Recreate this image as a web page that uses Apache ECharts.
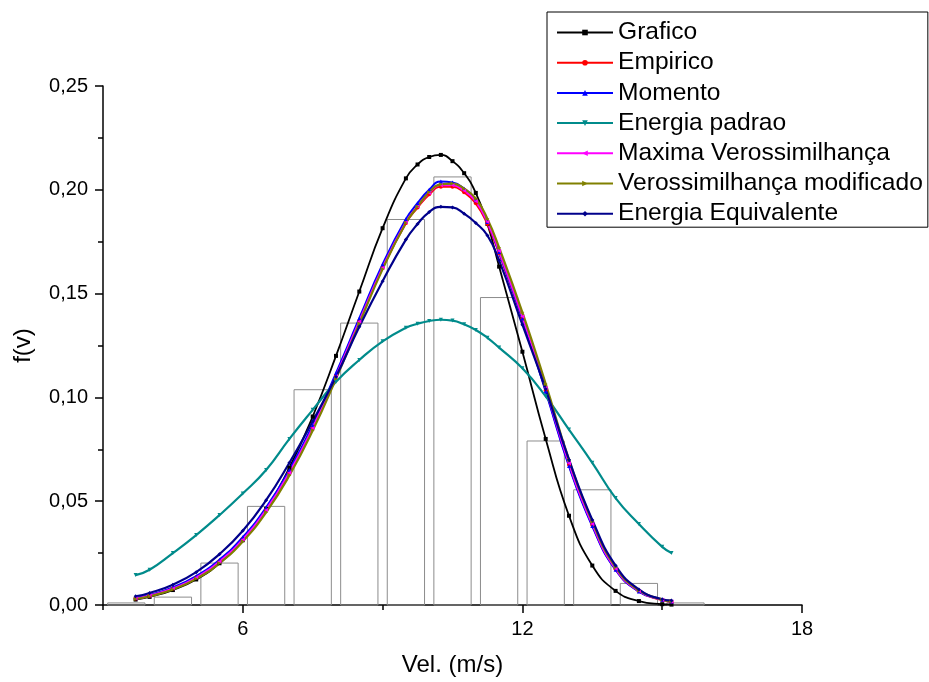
<!DOCTYPE html>
<html>
<head>
<meta charset="utf-8">
<script src="https://cdn.jsdelivr.net/npm/echarts@6/dist/echarts.min.js"></script>
<style>
html,body{margin:0;padding:0;background:#fff;}
#chart{width:929px;height:682px;}
</style>
</head>
<body>
<div id="chart"></div>
<script>
// Histogram (bin centres and heights)
var binCenters = [3.5, 4.5, 5.5, 6.5, 7.5, 8.5, 9.5, 10.5, 11.5, 12.5, 13.5, 14.5, 15.5];
var binHeights = [0.001, 0.0038, 0.0202, 0.0475, 0.1037, 0.1358, 0.1857, 0.2062, 0.1481, 0.0790, 0.0555, 0.0104, 0.001];

// Curve x positions
var vel = [3.7, 4.0, 4.5, 5.0, 5.5, 6.0, 6.5, 7.0, 7.5, 8.0, 8.5, 9.0, 9.5, 9.75, 10.0, 10.25, 10.5, 10.75, 11.0, 11.25, 11.5, 12.0, 12.5, 13.0, 13.5, 14.0, 14.5, 15.0, 15.2];

var grafico =       [0.0026, 0.0039, 0.0072, 0.0123, 0.0201, 0.0312, 0.0463, 0.0661, 0.0908, 0.1200, 0.1510, 0.1815, 0.2055, 0.2122, 0.2158, 0.2168, 0.2138, 0.2080, 0.1985, 0.1835, 0.1630, 0.1220, 0.0800, 0.0430, 0.0190, 0.0068, 0.0019, 0.0004, 0.0002];
var empirico =      [0.0031, 0.0045, 0.0080, 0.0133, 0.0211, 0.0318, 0.0460, 0.0640, 0.0856, 0.1105, 0.1368, 0.1625, 0.1840, 0.1915, 0.1978, 0.2015, 0.2015, 0.1988, 0.1935, 0.1835, 0.1695, 0.1380, 0.1035, 0.0675, 0.0385, 0.0172, 0.0066, 0.0024, 0.0016];
var momento =       [0.0034, 0.0048, 0.0084, 0.0139, 0.0218, 0.0326, 0.0469, 0.0650, 0.0866, 0.1116, 0.1380, 0.1640, 0.1858, 0.1935, 0.2000, 0.2040, 0.2035, 0.2005, 0.1950, 0.1845, 0.1700, 0.1380, 0.1030, 0.0670, 0.0380, 0.0170, 0.0065, 0.0025, 0.0017];
var energiaPadrao = [0.0144, 0.0170, 0.0250, 0.0337, 0.0433, 0.0537, 0.0650, 0.0800, 0.0940, 0.1075, 0.1180, 0.1270, 0.1335, 0.1355, 0.1368, 0.1374, 0.1370, 0.1352, 0.1325, 0.1287, 0.1240, 0.1140, 0.1005, 0.0845, 0.0685, 0.0515, 0.0390, 0.0280, 0.0250];
var maximaVero =    [0.0031, 0.0045, 0.0079, 0.0132, 0.0209, 0.0316, 0.0458, 0.0637, 0.0853, 0.1102, 0.1366, 0.1625, 0.1843, 0.1920, 0.1985, 0.2022, 0.2022, 0.1995, 0.1945, 0.1845, 0.1705, 0.1390, 0.1045, 0.0683, 0.0390, 0.0175, 0.0068, 0.0025, 0.0017];
var veroModif =     [0.0029, 0.0042, 0.0075, 0.0126, 0.0201, 0.0306, 0.0446, 0.0624, 0.0840, 0.1090, 0.1355, 0.1618, 0.1840, 0.1918, 0.1988, 0.2026, 0.2030, 0.2005, 0.1958, 0.1860, 0.1722, 0.1410, 0.1065, 0.0700, 0.0402, 0.0182, 0.0070, 0.0026, 0.0018];
var energiaEquiv =  [0.0042, 0.0058, 0.0098, 0.0158, 0.0245, 0.0358, 0.0505, 0.0685, 0.0885, 0.1100, 0.1340, 0.1560, 0.1760, 0.1835, 0.1893, 0.1918, 0.1915, 0.1885, 0.1840, 0.1780, 0.1660, 0.1350, 0.1040, 0.0700, 0.0410, 0.0190, 0.0075, 0.0028, 0.0022];

var seriesNames = ['Grafico', 'Empirico', 'Momento', 'Energia padrao', 'Maxima Verossimilhança', 'Verossimilhança modificado', 'Energia Equivalente'];
var xMajorTicks = [6, 12, 18];
var xMinorTicks = [3, 9, 15];

function pairs(ys) { return vel.map(function (v, i) { return [v, ys[i]]; }); }

var FONT = "'Liberation Sans', Arial, sans-serif";
var chart = echarts.init(document.getElementById('chart'), null, {renderer: 'canvas'});

function lineSeries(name, ys, color, symbol, rotate, width) {
  return {
    name: name, type: 'line', data: pairs(ys), smooth: true,
    symbol: symbol, symbolRotate: rotate, symbolSize: 4, showSymbol: true,
    lineStyle: {color: color, width: width},
    itemStyle: {color: color},
    emphasis: {disabled: true}, z: 3
  };
}

var histData = binCenters.map(function (c, i) { return [c, binHeights[i]]; });

var option = {
  backgroundColor: '#fff',
  animation: false,
  textStyle: {fontFamily: FONT},
  grid: {left: 103, right: 127, top: 86, bottom: 75},
  legend: {
    orient: 'vertical', left: 547, top: 12,
    data: seriesNames,
    padding: [8, 5, 1, 9], itemGap: 5.2, itemWidth: 56, itemHeight: 7,
    borderColor: '#000', borderWidth: 1,
    textStyle: {fontSize: 24.6, color: '#000', fontFamily: FONT}
  },
  xAxis: [{
    type: 'value', min: 3, max: 18, interval: 3,
    name: 'Vel. (m/s)', nameLocation: 'middle', nameGap: 48,
    nameTextStyle: {fontSize: 24, color: '#000', fontFamily: FONT},
    axisLine: {lineStyle: {color: '#000', width: 1.5}},
    axisTick: {customValues: xMajorTicks, length: 8, lineStyle: {color: '#000', width: 1.5}},
    axisLabel: {customValues: xMajorTicks, fontSize: 20, color: '#000', margin: 14, fontFamily: FONT},
    splitLine: {show: false}
  }, {
    type: 'value', min: 3, max: 18, interval: 3, position: 'bottom', offset: 0,
    axisLine: {show: false},
    axisTick: {customValues: xMinorTicks, length: 5, lineStyle: {color: '#000', width: 1.5}},
    axisLabel: {show: false},
    splitLine: {show: false}
  }],
  yAxis: {
    type: 'value', min: 0, max: 0.25, interval: 0.05,
    name: 'f(v)', nameLocation: 'middle', nameGap: 68,
    nameTextStyle: {fontSize: 24, color: '#000', fontFamily: FONT},
    axisLine: {show: true, lineStyle: {color: '#000', width: 1.5}},
    axisTick: {show: true, length: 8, lineStyle: {color: '#000', width: 1.5}},
    minorTick: {show: true, splitNumber: 2, length: 5, lineStyle: {color: '#000', width: 1.5}},
    axisLabel: {fontSize: 20, color: '#000', margin: 15, fontFamily: FONT,
      formatter: function (v) { return v.toFixed(2).replace('.', ','); }},
    splitLine: {show: false}
  },
  series: [
    {
      name: 'hist', type: 'custom', data: histData, z: 1,
      encode: {x: 0, y: 1},
      renderItem: function (params, api) {
        var c = api.value(0), h = api.value(1);
        var p0 = api.coord([c - 0.4, h]);
        var p1 = api.coord([c + 0.4, 0]);
        return {
          type: 'rect',
          shape: {x: p0[0], y: p0[1], width: p1[0] - p0[0], height: p1[1] - p0[1]},
          style: {fill: 'none', stroke: '#8c8c8c', lineWidth: 1}
        };
      }
    },
    lineSeries('Grafico', grafico, '#000000', 'rect', 0, 1.8),
    lineSeries('Empirico', empirico, '#ff0000', 'circle', 0, 2.2),
    lineSeries('Momento', momento, '#0000ff', 'triangle', 0, 2.2),
    lineSeries('Energia padrao', energiaPadrao, '#008b8b', 'triangle', 180, 2.2),
    lineSeries('Maxima Verossimilhança', maximaVero, '#ff00ff', 'triangle', 90, 2.2),
    lineSeries('Verossimilhança modificado', veroModif, '#808000', 'triangle', -90, 2.2),
    lineSeries('Energia Equivalente', energiaEquiv, '#00008b', 'diamond', 0, 2.2)
  ]
};
chart.setOption(option);
</script>
</body>
</html>
